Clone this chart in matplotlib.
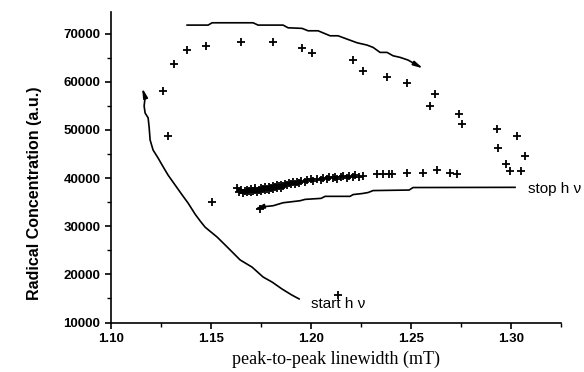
import matplotlib
matplotlib.use("Agg")
import matplotlib.pyplot as plt
from matplotlib.ticker import MultipleLocator

# scatter points: peak-to-peak linewidth (mT) vs radical concentration
arc_x = [1.1263, 1.1285, 1.1317, 1.1383, 1.1475, 1.1650, 1.1810, 1.1955, 1.2007,
         1.2210, 1.2263, 1.2383, 1.2482, 1.2622, 1.2597, 1.2743, 1.2757, 1.2930,
         1.3034, 1.2938, 1.3073, 1.2977, 1.2997, 1.3050]
arc_y = [58100, 48700, 63700, 66600, 67500, 68300, 68300, 67100, 66000,
         64500, 62200, 60900, 59700, 57400, 55000, 53400, 51200, 50100,
         48800, 46300, 44600, 43000, 41500, 41500]

band_x = [1.163, 1.164, 1.165, 1.166, 1.167, 1.168, 1.168, 1.169, 1.170, 1.170,
          1.171, 1.172, 1.172, 1.173, 1.174, 1.175, 1.175, 1.176, 1.177, 1.177,
          1.178, 1.179, 1.179, 1.180, 1.181, 1.181, 1.182, 1.183, 1.183, 1.184,
          1.185, 1.185, 1.186, 1.187, 1.188, 1.189, 1.190, 1.191, 1.192, 1.193,
          1.194, 1.195, 1.197, 1.198, 1.200, 1.201, 1.203, 1.205, 1.206, 1.208,
          1.209, 1.211, 1.212, 1.213, 1.215, 1.216, 1.218, 1.219, 1.221, 1.222,
          1.224, 1.226, 1.233, 1.236, 1.239, 1.2405, 1.248, 1.256, 1.263, 1.2697,
          1.273]
band_y = [38000, 37200, 37500, 36900, 37300, 37600, 37000, 37400, 37100, 37700,
          37300, 37500, 37900, 37200, 37600, 37400, 38000, 37700, 37500, 38100,
          37800, 38200, 37600, 38000, 37800, 38400, 38100, 38500, 37900, 38300,
          38600, 38000, 38400, 38800, 38500, 38900, 38700, 39100, 38800, 39200,
          39000, 39400, 39200, 39500, 39700, 39300, 39800, 39600, 40000, 39800,
          40200, 40000, 40300, 39900, 40200, 40500, 40100, 40400, 40200, 40600,
          40300, 40500, 40900, 40900, 40900, 40900, 41000, 41000, 41600, 41000,
          40900]

misc_x = [1.1505, 1.2138, 1.1747]
misc_y = [35100, 15700, 33500]

# hand-drawn guide curves
start_x = [1.1942, 1.1906, 1.1857, 1.1807, 1.1762, 1.1707, 1.1647, 1.1582, 1.1532,
           1.1507, 1.1472, 1.1447, 1.1422, 1.1387, 1.1357, 1.1322, 1.1287, 1.1257,
           1.1237, 1.1212, 1.1197, 1.1192, 1.1187, 1.1172, 1.1167, 1.1172, 1.1157]
start_y = [14900, 15700, 16950, 18400, 19450, 21500, 23000, 25700, 27750,
           28600, 29800, 31100, 32500, 34800, 36500, 38550, 40600, 42700,
           44150, 45800, 47900, 50600, 52500, 53500, 54950, 56800, 58700]

top_x = [1.1382, 1.1487, 1.1507, 1.1712, 1.1737, 1.1862, 1.1887, 1.1957, 1.1987,
         1.2037, 1.2097, 1.2137, 1.2182, 1.2232, 1.2282, 1.2312, 1.2347, 1.2382,
         1.2412, 1.2447, 1.2487, 1.2522, 1.2562]
top_y = [71760, 71760, 72240, 72240, 71760, 71760, 71200, 71080, 70580,
         70580, 69540, 69540, 68850, 68090, 67610, 67130, 66090, 66090,
         65390, 65060, 64500, 63670, 62770]

stop_x = [1.3022, 1.2512, 1.2492, 1.2312, 1.2287, 1.2257, 1.2212, 1.2197, 1.2072,
          1.2052, 1.1972, 1.1947, 1.1862, 1.1812, 1.1762, 1.1717]
stop_y = [38070, 38030, 37510, 37400, 36990, 36780, 36570, 36200, 36200,
          35780, 35570, 35290, 34870, 34250, 34040, 33460]

fig = plt.figure(figsize=(5.84, 3.72), dpi=100)
ax = fig.add_axes([0.1896, 0.133, 0.7704, 0.835])

ax.plot(arc_x + band_x + misc_x, arc_y + band_y + misc_y, linestyle='none',
        marker='+', markersize=6, markeredgewidth=1.3, color='black')

for cx, cy in [(start_x, start_y), (top_x, top_y), (stop_x, stop_y)]:
    ax.plot(cx[:-1], cy[:-1], color='black', linewidth=1.2)
    ax.annotate('', xy=(cx[-1], cy[-1]), xytext=(cx[-2], cy[-2]),
                arrowprops=dict(arrowstyle='-|>,head_length=0.55,head_width=0.13',
                                color='black', lw=1.2, shrinkA=0, shrinkB=0))

ax.text(1.2, 13900, 'start h \u03bd', fontsize=11, family='Liberation Sans',
        va='center', ha='left')
ax.text(1.3085, 37800, 'stop h \u03bd', fontsize=11, family='Liberation Sans',
        va='center', ha='left')

ax.set_xlim(1.10, 1.325)
ax.set_ylim(10000, 74500)
ax.xaxis.set_major_locator(MultipleLocator(0.05))
ax.xaxis.set_minor_locator(MultipleLocator(0.025))
ax.yaxis.set_major_locator(MultipleLocator(10000))
ax.yaxis.set_minor_locator(MultipleLocator(5000))
ax.xaxis.set_major_formatter(matplotlib.ticker.FormatStrFormatter('%.2f'))

for s in ['top', 'right']:
    ax.spines[s].set_visible(False)
for s in ['left', 'bottom']:
    ax.spines[s].set_linewidth(1.2)
ax.tick_params(which='major', direction='out', length=4, width=1.2)
ax.tick_params(which='minor', direction='out', length=3, width=1.0)
for lab in ax.get_xticklabels() + ax.get_yticklabels():
    lab.set_family('Liberation Sans')
    lab.set_fontweight('bold')
    lab.set_fontsize(9.5)

ax.set_xlabel('peak-to-peak linewidth (mT)', family='Liberation Serif', fontsize=13,
              labelpad=4)
ax.set_ylabel('Radical Concentration (a.u.)', family='Liberation Sans', fontweight='bold',
              fontsize=11.5)
ax.yaxis.set_label_coords(-0.152, 0.417)

fig.savefig('out.png', dpi=100)
